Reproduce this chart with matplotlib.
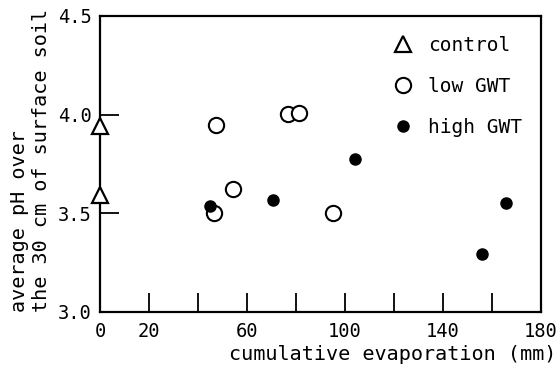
import matplotlib
matplotlib.use('Agg')
import matplotlib.pyplot as plt

# data
control_evap = [0, 0]
control_ph = [3.94, 3.59]
low_evap = [47.3, 76.6, 81.3, 54.5, 46.7, 95.2]
low_ph = [3.945, 4.005, 4.01, 3.625, 3.50, 3.50]
high_evap = [44.9, 70.7, 104.2, 155.9, 166.0]
high_ph = [3.535, 3.565, 3.775, 3.295, 3.55]

x_ticks = [0, 20, 40, 60, 80, 100, 120, 140, 160, 180]
x_labels = ['0', '20', '', '60', '', '100', '', '140', '', '180']
y_ticks = [3.0, 3.5, 4.0, 4.5]
y_labels = ['3.0', '3.5', '4.0', '4.5']

plt.rcParams['font.family'] = 'DejaVu Sans Mono'

fig = plt.figure(figsize=(5.6, 3.7), dpi=100)
ax = fig.add_axes([0.1786, 0.157, 0.787, 0.8])

ax.plot(control_evap, control_ph, linestyle='none', marker='^', ms=12,
        mfc='white', mec='black', mew=1.6, label='control', clip_on=False, zorder=5)
ax.plot(low_evap, low_ph, linestyle='none', marker='o', ms=11,
        mfc='white', mec='black', mew=1.5, label='low GWT', zorder=4)
ax.plot(high_evap, high_ph, linestyle='none', marker='o', ms=8,
        mfc='black', mec='black', label='high GWT', zorder=4)

ax.set_xlim(0, 180)
ax.set_ylim(3.0, 4.5)
ax.set_xticks(x_ticks)
ax.set_xticklabels(x_labels)
ax.set_yticks(y_ticks)
ax.set_yticklabels(y_labels)
ax.tick_params(direction='in', length=14, width=1.3, labelsize=13.5, pad=6)
ax.tick_params(axis='x', pad=7)
for s in ax.spines.values():
    s.set_linewidth(1.6)

ax.set_xlabel('cumulative evaporation (mm)', fontsize=14.5)
ax.xaxis.label.set_horizontalalignment('right')
ax.xaxis.set_label_coords(1.036, -0.112)
ax.set_ylabel('average pH over\nthe 30 cm of surface soil', fontsize=14.5,
              linespacing=1.15, multialignment='left')
ax.yaxis.label.set_horizontalalignment('left')
ax.yaxis.set_label_coords(-0.112, 0.0)

ax.legend(loc='upper left', bbox_to_anchor=(0.66, 0.932), frameon=False, fontsize=14,
          handletextpad=0.7, labelspacing=1.12, borderaxespad=0, borderpad=0,
          handlelength=1.2)

fig.savefig('out.png', dpi=100)
